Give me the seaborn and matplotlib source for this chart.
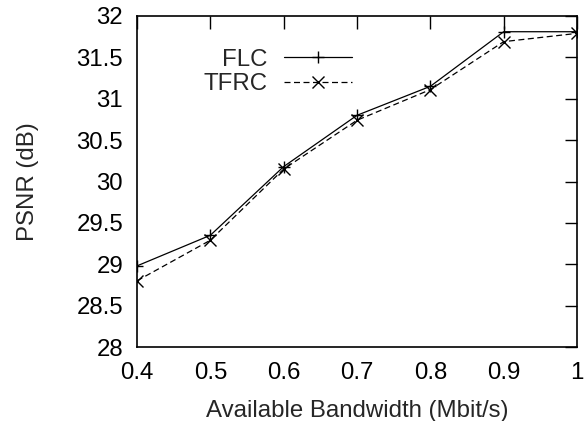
import matplotlib
matplotlib.use("Agg")
import matplotlib.pyplot as plt
import seaborn as sns
import pandas as pd

bandwidth = [0.4, 0.5, 0.6, 0.7, 0.8, 0.9, 1.0]
flc = [28.98, 29.35, 30.18, 30.80, 31.15, 31.81, 31.81]
tfrc = [28.80, 29.29, 30.15, 30.74, 31.11, 31.69, 31.79]
x_ticks = [0.4, 0.5, 0.6, 0.7, 0.8, 0.9, 1.0]
x_labels = ["0.4", "0.5", "0.6", "0.7", "0.8", "0.9", "1"]
y_ticks = [28, 28.5, 29, 29.5, 30, 30.5, 31, 31.5, 32]
y_labels = ["28", "28.5", "29", "29.5", "30", "30.5", "31", "31.5", "32"]

sns.set_theme(style="white")
plt.rcParams['font.family'] = ['Liberation Sans', 'DejaVu Sans']

df = pd.DataFrame({
    "bw": bandwidth * 2,
    "psnr": flc + tfrc,
    "series": ["FLC"] * len(bandwidth) + ["TFRC"] * len(bandwidth),
})

FS = 17.3
DASH = (4.8, 2.8)

fig = plt.figure(figsize=(5.86, 4.21), dpi=100)
ax = fig.add_axes([137 / 586, 1 - 347 / 421, (577 - 137) / 586, (347 - 16) / 421])

sns.lineplot(data=df, x="bw", y="psnr", hue="series", style="series",
             palette=["black", "black"], dashes={"FLC": "", "TFRC": DASH},
             markers={"FLC": "+", "TFRC": "x"}, markersize=8, markeredgewidth=1.0,
             markeredgecolor="black",
             linewidth=0.9, ax=ax, legend=False)

h1, = ax.plot([], [], color="black", lw=0.9, marker="+", ms=8, mew=1.0)
h2, = ax.plot([], [], color="black", lw=0.9, ls=(0, DASH), marker="x", ms=8, mew=1.0)
leg = ax.legend([h1, h2], ["FLC", "TFRC"], loc="upper left", bbox_to_anchor=(0.13, 0.93),
                frameon=False, fontsize=FS, markerfirst=False, handlelength=2.85,
                handletextpad=0.66, labelspacing=0.1, borderaxespad=0)

ax.set_xlim(0.4, 1.0)
ax.set_ylim(28, 32)
ax.set_xticks(x_ticks)
ax.set_xticklabels(x_labels)
ax.set_yticks(y_ticks)
ax.set_yticklabels(y_labels)
ax.tick_params(direction="in", length=9, width=1.0, top=True, right=True,
               labelsize=FS, pad=10, colors="black")
ax.tick_params(axis="x", pad=11)
for s in ax.spines.values():
    s.set_color("black")
    s.set_linewidth(1.2)
ax.set_xlabel("Available Bandwidth (Mbit/s)", fontsize=FS, labelpad=11)
ax.set_ylabel("PSNR (dB)", fontsize=FS, labelpad=27)

fig.savefig("out.png", dpi=100)
